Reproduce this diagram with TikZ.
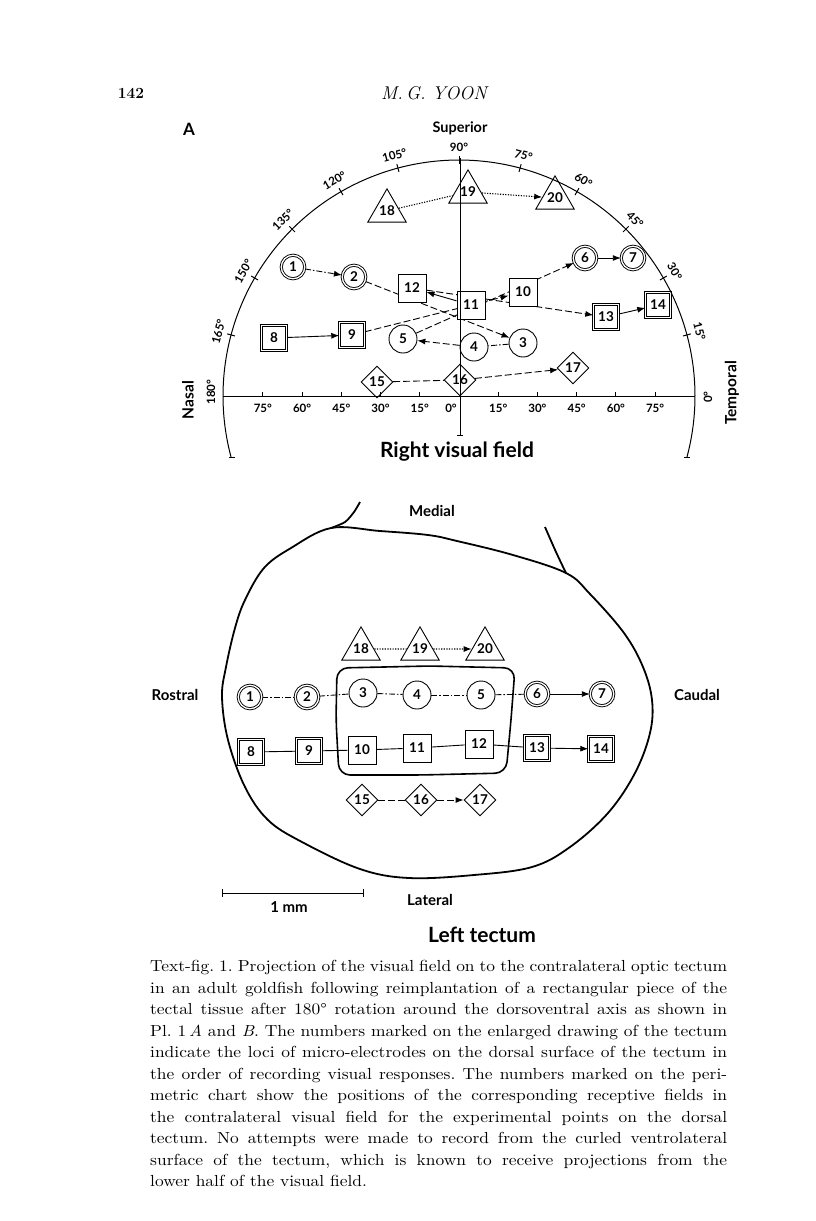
\documentclass[tikz,border=0pt]{standalone}
\usepackage{fontspec}
\newfontfamily\lato{Lato}
\newfontfamily\capfont{lmroman10}[Extension=.otf, UprightFont=*-regular, ItalicFont=*-italic, FakeStretch=1.09]
\usetikzlibrary{shapes.geometric,arrows.meta,backgrounds}
\tikzset{
 nf/.style={font=\lato\bfseries\fontsize{13.5}{13.5}\selectfont},
 nbase/.style={draw, line width=0.9pt, fill=white, inner sep=0pt, nf},
 circ/.style={nbase, circle, minimum size=28pt},
 dcirc/.style={nbase, circle, double, double distance=1.3pt, minimum size=23.5pt},
 sq/.style={nbase, rectangle, minimum size=28pt},
 dsq/.style={nbase, rectangle, double, double distance=1.3pt, minimum size=24.5pt},
 tri/.style={nbase, regular polygon, regular polygon sides=3, minimum size=38pt},
 dia/.style={nbase, diamond, minimum width=32pt, minimum height=32pt},
 conn/.style={line width=0.9pt},
 arr/.style={-{Latex[length=8pt,width=6pt]}},
 dsh/.style={dash pattern=on 7pt off 3pt},
 dshdot/.style={dash pattern=on 6pt off 2pt on 1.5pt off 2pt},
 dotln/.style={line width=1.1pt, dash pattern=on 1.2pt off 1.4pt},
 lbl/.style={font=\lato\bfseries\fontsize{11.5}{11.5}\selectfont, inner sep=0pt},
 ttl/.style={font=\lato\bfseries\fontsize{14.5}{14.5}\selectfont, inner sep=0pt},
 sml/.style={font=\lato\bfseries\fontsize{15}{15}\selectfont, inner sep=0pt},
 big/.style={font=\lato\bfseries\fontsize{21}{21}\selectfont, inner sep=0pt},
 outl/.style={line width=1.8pt, line join=round},
 axl/.style={line width=1pt},
}
\begin{document}
\begin{tikzpicture}[x=1pt,y=-1pt]
\useasboundingbox (0,0) rectangle (816,1221);

% header
\node[font=\bfseries\fontsize{15.5}{15.5}\selectfont, inner sep=0pt] (pg) at (131,93) {142};
\node[font=\itshape\fontsize{18.5}{18.5}\selectfont, inner sep=0pt] (au) at (434,93) {M.\,G.\ YOON};

% ---------- Perimetric chart ----------
\node[font=\lato\bfseries\fontsize{17}{17}\selectfont, inner sep=0pt] (lA) at (189,129) {A};
\node[ttl] (sup) at (460,128) {Superior};
\node[ttl, font=\lato\bfseries\fontsize{15.5}{15.5}\selectfont, rotate=90] (nas) at (188,400) {Nasal};
\node[ttl, font=\lato\bfseries\fontsize{15.5}{15.5}\selectfont, rotate=90] (tmp) at (732,393) {Temporal};
\node[big] (rvf) at (457,452) {Right visual field};

% nodes
\node[dcirc] (a1) at (293,267) {1};
\node[dcirc] (a2) at (354,277) {2};
\node[circ] (a3) at (523,343) {3};
\node[circ] (a4) at (474,347) {4};
\node[circ] (a5) at (403,339) {5};
\node[dcirc] (a6) at (585,258) {6};
\node[dcirc] (a7) at (633,258) {7};
\node[dsq] (a8) at (274,338) {8};
\node[dsq] (a9) at (352,335) {9};
\node[sq] (a10) at (523,292) {10};
\node[sq] (a11) at (471,305) {11};
\node[sq] (a12) at (412,288) {12};
\node[dsq] (a13) at (606,317) {13};
\node[dsq] (a14) at (658,305) {14};
\node[dia] (a15) at (377,382) {15};
\node[dia] (a16) at (460,380) {16};
\node[dia] (a17) at (573,368) {17};
\node[tri] (a18) at (387,211) {18};
\node[tri] (a19) at (468,192) {19};
\node[tri] (a20) at (555,198) {20};

\begin{pgfonlayer}{background}
\draw[conn,arr,dshdot] (a1) -- (a2);
\draw[conn,arr,dsh] (a2) -- (a3);
\draw[conn,dshdot] (a3) -- (a4);
\draw[conn,arr,dsh] (a4) -- (a5);
\draw[conn,arr,dsh] (a5) -- (a6);
\draw[conn,arr] (a6) -- (a7);
\draw[conn,arr] (a8) -- (a9);
\draw[conn,arr,dsh] (a9) -- (a10);
\draw[conn,arr] (a11) -- (a12);
\draw[conn,arr,dsh] (a12) -- (a13);
\draw[conn,arr] (a13) -- (a14);
\draw[conn,dsh] (a15) -- (a16);
\draw[conn,arr,dsh] (a16) -- (a17);
\draw[dotln] (a18) -- (a19);
\draw[dotln,arr] (a19) -- (a20);
\end{pgfonlayer}

% arc and axes
\draw[axl] plot[domain=-15:195, samples=140, smooth] ({459+236*cos(\x)},{396-236*sin(\x)});
\foreach \a in {15,30,45,60,75,90,105,120,135,150,165}{
  \draw[axl] ({459+232*cos(\a)},{396-232*sin(\a)}) -- ({459+240*cos(\a)},{396-240*sin(\a)});
  \node[lbl, rotate=\a-90] at ({459+249*cos(\a)},{396-249*sin(\a)}) {\a°};
}
\node[lbl, rotate=90] (l180) at (211,392) {180°};
\node[lbl, rotate=90] (l0) at (708,397) {0°};
\draw[axl] (229,457) -- (235,457);
\draw[axl] (684,457) -- (690,457);
\draw[axl] (223,396) -- (695,396);
\draw[axl] (460,158) -- (460,435);
\draw[axl] (457,435) -- (463,435);
\foreach \d in {15,30,45,60,75}{
  \draw[axl] ({459-2.615*\d},392) -- ({459-2.615*\d},397);
  \draw[axl] ({459+2.615*\d},392) -- ({459+2.615*\d},397);
  \node[lbl] at ({459-2.615*\d},408) {\d°};
  \node[lbl] at ({459+2.615*\d},408) {\d°};
}
\node[lbl] (l00) at (451,408) {0°};

% ---------- Tectum ----------
\node[sml] (med) at (432,511) {Medial};
\node[sml] (ros) at (175,695) {Rostral};
\node[sml] (cau) at (697,695) {Caudal};
\node[sml] (lat) at (430,900) {Lateral};
\node[sml] (mm) at (289,907) {1 mm};
\node[big] (lt) at (482,935) {Left tectum};
\draw[axl] (222,893) -- (363,893);
\draw[axl] (222,889) -- (222,897);
\draw[axl] (363,889) -- (363,897);

\draw[outl] plot[smooth cycle, tension=0.6] coordinates {
 (331,528) (380,531) (428,535) (457,541) (513,555) (566,573) (590,594)
 (624,633) (643,667) (652,700) (650,733) (635,773) (608,813) (570,847)
 (532,867) (474,875) (409,878) (360,869) (302,842) (268,820) (245,787)
 (228,740) (222,697) (226,667) (235,628) (245,600) (264,568) (291,548)};
\draw[outl] plot[smooth] coordinates {(331,528) (345,522) (354,512) (360,502)};
\draw[outl] plot[smooth] coordinates {(566,573) (556,552) (545,527)};

\draw[outl, line width=1.6pt, rounded corners=11pt]
 (337,668) -- (430,666) -- (515,668) -- (511,720) -- (506,773) -- (420,775)
 -- (339,775) -- (336,720) -- cycle;

\node[dcirc] (b1) at (250,697) {1};
\node[dcirc] (b2) at (307,697) {2};
\node[circ] (b3) at (363,693) {3};
\node[circ] (b4) at (417,695) {4};
\node[circ] (b5) at (481,695) {5};
\node[dcirc] (b6) at (537,694) {6};
\node[dcirc] (b7) at (602,694) {7};
\node[dsq] (b8) at (251,752) {8};
\node[dsq] (b9) at (309,751) {9};
\node[sq] (b10) at (362,750) {10};
\node[sq] (b11) at (417,748) {11};
\node[sq] (b12) at (479,744) {12};
\node[dsq] (b13) at (537,748) {13};
\node[dsq] (b14) at (601,749) {14};
\node[tri] (b18) at (361,649) {18};
\node[tri] (b19) at (420,649) {19};
\node[tri] (b20) at (485,649) {20};
\node[dia] (b15) at (362,800) {15};
\node[dia] (b16) at (421,800) {16};
\node[dia] (b17) at (480,800) {17};

\begin{pgfonlayer}{background}
\draw[conn,dshdot] (b1) -- (b2);
\draw[conn,dshdot] (b2) -- (b3);
\draw[conn,dshdot] (b3) -- (b4);
\draw[conn,dshdot] (b4) -- (b5);
\draw[conn,dshdot] (b5) -- (b6);
\draw[conn,arr] (b6) -- (b7);
\draw[conn] (b8) -- (b9);
\draw[conn] (b9) -- (b10);
\draw[conn] (b10) -- (b11);
\draw[conn] (b11) -- (b12);
\draw[conn] (b12) -- (b13);
\draw[conn,arr] (b13) -- (b14);
\draw[dotln] (b18) -- (b19);
\draw[dotln,arr] (b19) -- (b20);
\draw[conn,dsh] (b15) -- (b16);
\draw[conn,arr,dsh] (b16) -- (b17);
\end{pgfonlayer}

% ---------- Caption ----------
\node[anchor=north west, inner sep=0pt, text width=577pt, align=justify,
      font=\capfont\fontsize{16}{21.5}\selectfont] (cap) at (150,960.5) {%
\tolerance=10000\hyphenpenalty=10000\frenchspacing
Text-fig. 1. Projection of the visual field on to the contralateral optic tectum\linebreak
in an adult goldfish following reimplantation of a rectangular piece of the\linebreak
tectal tissue after 180° rotation around the dorsoventral axis as shown in\linebreak
Pl.\ 1\,\textit{A} and \textit{B}. The numbers marked on the enlarged drawing of the tectum\linebreak
indicate the loci of micro-electrodes on the dorsal surface of the tectum in\linebreak
the order of recording visual responses. The numbers marked on the peri-\linebreak
metric chart show the positions of the corresponding receptive fields in\linebreak
the contralateral visual field for the experimental points on the dorsal\linebreak
tectum. No attempts were made to record from the curled ventrolateral\linebreak
surface of the tectum, which is known to receive projections from the\linebreak
lower half of the visual field.};
\end{tikzpicture}
\end{document}
